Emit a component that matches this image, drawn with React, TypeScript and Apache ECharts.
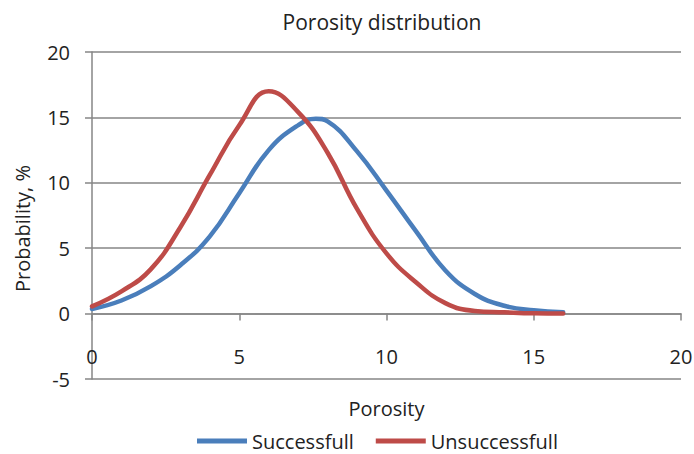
import React, { useEffect, useRef } from "react";
import * as echarts from "echarts";

const porositySuccessful = [0, 1, 2, 3, 4, 5, 6, 7, 7.6, 8, 9, 10, 11, 12, 13, 14, 15, 16];
const successful = [0.35, 1.0, 2.1, 3.7, 5.9, 9.2, 12.5, 14.4, 14.9, 14.7, 12.4, 9.4, 6.3, 3.3, 1.5, 0.6, 0.25, 0.1];
const porosityUnsuccessful = [0, 1, 2, 3, 4, 5, 6, 7, 8, 9, 10, 11, 12, 13, 14, 15, 16];
const unsuccessful = [0.55, 1.7, 3.4, 6.6, 10.6, 14.4, 17.0, 15.4, 12.3, 8.0, 4.6, 2.4, 0.8, 0.2, 0.1, 0.02, 0.0];
const seriesNames = ["Successfull", "Unsuccessfull"];
const titleText = "Porosity distribution";
const xName = "Porosity";
const yName = "Probability, %";

const FONT = "Open Sans";
const FS = 20;
const GRAY = "#868686";

export default function App() {
  const ref = useRef<HTMLDivElement>(null);
  useEffect(() => {
    if (!ref.current) return;
    const chart = echarts.init(ref.current, null, { renderer: "svg" });
    const mk = (xs: number[], ys: number[]) => xs.map((x, i) => [x, ys[i]]);
    chart.setOption({
      animation: false,
      backgroundColor: "#ffffff",
      textStyle: { fontFamily: FONT, color: "#222" },
      title: {
        text: titleText,
        left: 377,
        textAlign: "center",
        top: 6,
        textStyle: { fontFamily: FONT, fontSize: 21, fontWeight: "normal", color: "#222" },
      },
      legend: {
        top: 431,
        left: 197,
        padding: 0,
        itemWidth: 50,
        itemHeight: 5,
        itemGap: 22,
        icon: "rect",
        textStyle: { fontFamily: FONT, fontSize: FS, lineHeight: 20, color: "#222" },
        data: seriesNames,
      },
      grid: { left: 92, right: 13, top: 52, bottom: 75, containLabel: false, outerBoundsMode: "none" },
      xAxis: {
        type: "value",
        min: 0,
        max: 20,
        interval: 5,
        name: xName,
        nameLocation: "middle",
        nameGap: 19,
        nameTextStyle: { fontFamily: FONT, fontSize: FS, color: "#222" },
        axisLine: { show: true, onZero: true, lineStyle: { color: GRAY, width: 1.5 } },
        axisTick: { show: true, inside: false, length: 7, lineStyle: { color: GRAY, width: 1.5 } },
        axisLabel: { margin: -33, fontFamily: FONT, fontSize: FS, color: "#222" },
        splitLine: { show: false },
      },
      yAxis: {
        type: "value",
        min: -5,
        max: 20,
        interval: 5,
        name: yName,
        nameLocation: "middle",
        nameGap: 60,
        nameTextStyle: { fontFamily: FONT, fontSize: FS, color: "#222", padding: [0, 26, 0, 0] },
        axisLine: { show: true, onZero: false, lineStyle: { color: GRAY, width: 1.5 } },
        axisTick: { show: true, inside: false, length: 7, lineStyle: { color: GRAY, width: 1.5 } },
        axisLabel: { margin: 22, fontFamily: FONT, fontSize: FS, color: "#222" },
        splitLine: { show: true, lineStyle: { color: GRAY, width: 1.5 } },
      },
      series: [
        {
          name: seriesNames[0],
          type: "line",
          data: mk(porositySuccessful, successful),
          smooth: 0.45,
          showSymbol: false,
          symbol: "none",
          itemStyle: { color: "#4A7EBB" },
          lineStyle: { color: "#4A7EBB", width: 4.5, cap: "round" },
        },
        {
          name: seriesNames[1],
          type: "line",
          data: mk(porosityUnsuccessful, unsuccessful),
          smooth: 0.45,
          showSymbol: false,
          symbol: "none",
          itemStyle: { color: "#BE4B48" },
          lineStyle: { color: "#BE4B48", width: 4.5, cap: "round" },
        },
      ],
    });
    return () => chart.dispose();
  }, []);
  return <div ref={ref} style={{ position: "fixed", left: 0, top: 0, width: 694, height: 454 }} />;
}
